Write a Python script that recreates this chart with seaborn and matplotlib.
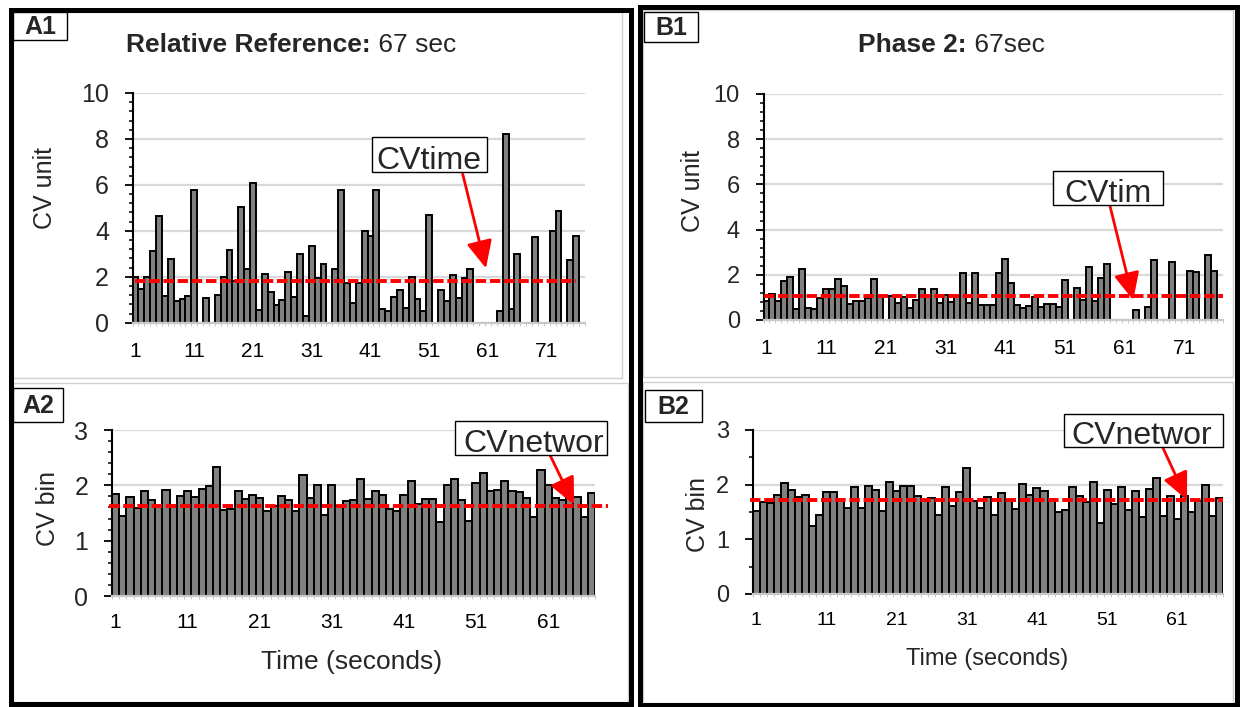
import numpy as np
import pandas as pd
import matplotlib
matplotlib.use("Agg")
import matplotlib.pyplot as plt
from matplotlib.patches import Rectangle
from matplotlib.ticker import MultipleLocator
import seaborn as sns

# ---- data -------------------------------------------------------------
cv_time_ref = [1.98, 1.45, 1.99, 3.11, 4.65, 1.18, 2.79, 0.96, 1.05, 1.16,
               5.76, 0, 1.09, 0, 1.22, 1.98, 3.17, 1.80, 5.03, 2.34,
               6.08, 0.57, 2.12, 1.34, 0.78, 1.00, 2.19, 1.13, 2.99, 0.30,
               3.36, 1.95, 2.54, 0, 2.35, 5.76, 1.74, 0.86, 1.75, 4.01,
               3.76, 5.76, 0.58, 0.49, 1.12, 1.42, 0.65, 2.00, 1.03, 0.52,
               4.67, 0, 1.42, 0.93, 2.08, 1.09, 1.96, 2.35, 0, 0,
               0, 0, 0.52, 8.21, 0.58, 2.97, 0, 0, 3.74, 0,
               0, 4.01, 4.85, 0, 2.73, 3.76, 0]
cv_net_ref = [1.84, 1.45, 1.79, 1.59, 1.90, 1.73, 1.63, 1.92, 1.63, 1.80,
              1.90, 1.79, 1.94, 1.99, 2.34, 1.55, 1.57, 1.90, 1.75, 1.83,
              1.77, 1.54, 1.63, 1.81, 1.73, 1.53, 2.19, 1.78, 2.01, 1.46,
              2.00, 1.63, 1.72, 1.73, 2.11, 1.75, 1.90, 1.82, 1.57, 1.54,
              1.83, 2.07, 1.66, 1.75, 1.76, 1.33, 2.01, 2.11, 1.73, 1.36,
              2.04, 2.23, 1.90, 1.92, 2.07, 1.89, 1.88, 1.78, 1.43, 2.28,
              2.01, 1.77, 1.73, 1.84, 1.79, 1.42, 1.86]
cv_time_p2 = [0.85, 1.16, 0.84, 1.71, 1.90, 0.49, 2.25, 0.53, 0.47, 0.97,
              1.38, 1.38, 1.80, 1.52, 0.69, 0.85, 0.82, 0.96, 1.80, 1.06,
              0, 1.06, 0.77, 1.03, 0.53, 0.88, 1.37, 1.06, 1.38, 0.77,
              1.09, 0.80, 1.00, 2.09, 0.74, 2.06, 0.65, 0.65, 0.68, 2.09,
              2.72, 1.62, 0.68, 0.54, 0.63, 1.03, 0.57, 0.72, 0.72, 0.59,
              1.78, 0, 1.43, 0.90, 2.36, 0.85, 1.86, 2.50, 0, 0,
              0, 0, 0.43, 0, 0.57, 2.67, 0, 0, 2.56, 0,
              0, 2.18, 2.12, 0, 2.89, 2.19, 0]
cv_net_p2 = [1.52, 1.68, 1.67, 1.82, 2.03, 1.90, 1.77, 1.81, 1.24, 1.44,
             1.87, 1.87, 1.73, 1.57, 1.96, 1.57, 1.98, 1.91, 1.51, 2.04,
             1.88, 1.97, 1.98, 1.80, 1.70, 1.76, 1.44, 1.96, 1.61, 1.87,
             2.30, 1.71, 1.58, 1.78, 1.45, 1.85, 1.70, 1.55, 2.02, 1.82,
             1.94, 1.89, 1.74, 1.50, 1.54, 1.95, 1.80, 1.69, 2.04, 1.29,
             1.90, 1.65, 1.96, 1.54, 1.88, 1.41, 1.92, 2.13, 1.43, 1.80,
             1.38, 1.80, 1.50, 1.70, 1.99, 1.43, 1.76]

mean_time_ref = 1.80
mean_net_ref = 1.63
mean_time_p2 = 1.08
mean_net_p2 = 1.72

panel_labels = ["A1", "A2", "B1", "B2"]
tick_step = 10

# ---- style ------------------------------------------------------------
sns.set_theme(style="white")
plt.rcParams["font.family"] = ["Liberation Sans", "DejaVu Sans"]

W, H = 1241, 707
fig = plt.figure(figsize=(W / 100, H / 100), dpi=100)


def fx(x):
    return x / W


def fy(y):
    return 1 - y / H


def add_axes_px(l, t, r, b):
    return fig.add_axes([l / W, 1 - b / H, (r - l) / W, (b - t) / H])


def rect_px(l, t, r, b, **kw):
    fig.patches.append(Rectangle((fx(l), fy(b)), (r - l) / W, (b - t) / H,
                                 transform=fig.transFigure, **kw))


def bar_panel(ax, values, mean, ymax, major, minor, xlab_size, ylab_size,
              xpad, ypad, line_span, edge_w=1.4):
    n = len(values)
    df = pd.DataFrame({"sec": np.arange(1, n + 1), "cv": values})
    sns.barplot(data=df, x="sec", y="cv", ax=ax, color="#808080",
                saturation=1, edgecolor="black", linewidth=edge_w, width=1.0)
    for p in ax.patches:
        if p.get_height() == 0:
            p.set_linewidth(0)
    ax.set_xlim(-0.5, n - 0.5)
    ax.set_ylim(0, ymax)
    ax.set_xlabel("")
    ax.set_ylabel("")
    ax.set_xticks(range(0, n, tick_step))
    ax.set_xticklabels([str(i + 1) for i in range(0, n, tick_step)])
    ax.set_xticks(np.arange(-0.5, n, 1), minor=True)
    ax.tick_params(axis="x", which="major", length=0, labelsize=xlab_size,
                   pad=xpad, colors="black")
    ax.tick_params(axis="x", which="minor", bottom=True, length=2.2,
                   width=0.7, color="#c8c8c8")
    ax.set_yticks(np.arange(0, ymax + 0.001, major))
    ax.yaxis.set_minor_locator(MultipleLocator(minor))
    ax.tick_params(axis="y", which="major", left=True, length=6, width=1.3,
                   direction="out", color="black", labelsize=ylab_size,
                   pad=ypad)
    ax.tick_params(axis="y", which="minor", left=True, length=3, width=1.1,
                   direction="out", color="black")
    ax.grid(axis="y", color="#d9d9d9", lw=1.6)
    ax.set_axisbelow(True)
    for s in ("top", "right"):
        ax.spines[s].set_visible(False)
    ax.spines["left"].set_color("black")
    ax.spines["left"].set_linewidth(1.5)
    ax.spines["bottom"].set_color("#c8c8c8")
    ax.spines["bottom"].set_linewidth(1.6)
    ax.plot(line_span, [mean, mean], color="#ff0000", lw=2.8,
            dashes=(2.7, 0.95), zorder=6, clip_on=False)


def callout(ax, text, box, base_y, cx, start, tip):
    l, t, r, b = box
    rect_px(l, t, r, b, facecolor="white", edgecolor="black", lw=1.0,
            zorder=5)
    fig.text(fx(cx), fy(base_y), text, ha="center", va="baseline",
             fontsize=23, zorder=6)
    ax.annotate("", xy=tip, xycoords="data",
                xytext=(fx(start[0]), fy(start[1])),
                textcoords="figure fraction",
                arrowprops=dict(arrowstyle="-|>,head_length=0.6,head_width=0.28",
                                color="#ff0000", lw=2.0, shrinkA=0, shrinkB=0,
                                mutation_scale=28),
                annotation_clip=False, zorder=7)


# ---- frames -----------------------------------------------------------
rect_px(13, 12, 622, 378, fill=False, edgecolor="#d0d0d0", lw=1.0)
rect_px(13, 383, 628, 702, fill=False, edgecolor="#d0d0d0", lw=1.0)
rect_px(643, 10, 1233, 377, fill=False, edgecolor="#d0d0d0", lw=1.0)
rect_px(643, 382, 1233, 703, fill=False, edgecolor="#d0d0d0", lw=1.0)
rect_px(10.5, 9.5, 631, 704, fill=False, edgecolor="black", lw=3.6)
rect_px(640.5, 7, 1236.5, 705, fill=False, edgecolor="black", lw=3.6)

# ---- panels -----------------------------------------------------------
axA1 = add_axes_px(132.5, 93, 585, 322.7)
bar_panel(axA1, cv_time_ref, mean_time_ref, 10, 2, 0.4, 15, 18, 14, 11,
          [0, 75])
axA2 = add_axes_px(112, 430, 595, 596)
bar_panel(axA2, cv_net_ref, mean_net_ref, 3, 1, 0.2, 15, 18, 12, 11,
          [-0.9, 68.3])
axB1 = add_axes_px(763.5, 94, 1223, 320)
bar_panel(axB1, cv_time_p2, mean_time_p2, 10, 2, 0.4, 15, 17, 14, 11,
          [-0.5, 76.5])
axB2 = add_axes_px(752.7, 430, 1223, 594)
bar_panel(axB2, cv_net_p2, mean_net_p2, 3, 1, 0.5, 14, 17, 13, 11,
          [-0.9, 66.5])

# ---- titles and axis labels ------------------------------------------
fig.text(fx(371), fy(45), "Relative Reference:", ha="right", va="center",
         fontsize=19, fontweight="bold")
fig.text(fx(371), fy(45), " 67 sec", ha="left", va="center", fontsize=19)
fig.text(fx(967), fy(45), "Phase 2:", ha="right", va="center",
         fontsize=19, fontweight="bold")
fig.text(fx(967), fy(45), " 67sec", ha="left", va="center", fontsize=19)

fig.text(fx(45), fy(188), "CV unit", rotation=90, ha="center", va="center",
         fontsize=18)
fig.text(fx(693), fy(191), "CV unit", rotation=90, ha="center", va="center",
         fontsize=18)
fig.text(fx(48), fy(508), "CV bin", rotation=90, ha="center", va="center",
         fontsize=18)
fig.text(fx(698), fy(515), "CV bin", rotation=90, ha="center", va="center",
         fontsize=18)
fig.text(fx(352), fy(662), "Time (seconds)", ha="center", va="center",
         fontsize=19)
fig.text(fx(987), fy(659), "Time (seconds)", ha="center", va="center",
         fontsize=17)

# ---- panel tags -------------------------------------------------------
tag_boxes = [(13.3, 11.7, 66.7, 40), (13, 388, 63, 422),
             (644, 12, 698, 42), (645, 390, 702, 422)]
for lab, (l, t, r, b) in zip(panel_labels, tag_boxes):
    rect_px(l, t, r, b, facecolor="white", edgecolor="black", lw=1.0)
    fig.text(fx((l + r) / 2), fy((t + b) / 2 + 1), lab, ha="center",
             va="center", fontsize=18, fontweight="bold")

# ---- call-outs --------------------------------------------------------
callout(axA1, "CVtime", (372, 137, 487, 172), 169, 429,
        (462.7, 174), (59.65, 2.37))
callout(axB1, "CVtim", (1053, 171, 1163, 205), 202, 1108,
        (1110, 206), (61.46, 0.88))
callout(axA2, "CVnetwor", (455, 421, 607, 455), 452, 534,
        (550, 455), (63.6, 1.645))
callout(axB2, "CVnetwor", (1064, 414, 1223, 447), 444, 1142,
        (1163, 448), (61.37, 1.72))

fig.savefig("out.png", dpi=100)
